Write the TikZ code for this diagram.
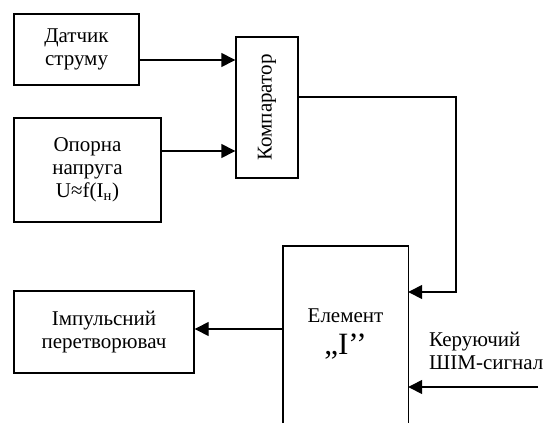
\documentclass[tikz,border=0pt]{standalone}
\usepackage{fontspec}
\setmainfont{Liberation Serif}
\usetikzlibrary{arrows.meta}
\tikzset{blok/.style={draw, line width=1.4pt, align=center, inner sep=0pt},
  arr/.style={line width=1.4pt, -{Triangle[length=14pt,width=14pt]}}}

\begin{document}
\begin{tikzpicture}[x=1pt, y=-1pt, font=\fontsize{21}{23}\selectfont]
      \useasboundingbox (0,0) rectangle (543,423);
      \node [blok, minimum width=125pt, minimum height=71pt] (dat) at (76.5, 49.5) {Датчик\\струму};
      \node [blok, minimum width=147pt, minimum height=104pt] (opor) at (87.5, 170) {Опорна\\напруга\\U≈f(I\textsubscript{н})};
      \node [blok, minimum width=62pt, minimum height=141pt] (komp) at (267, 107.5) {\rotatebox{90}{Компаратор}};
      \node [blok, minimum width=180pt, minimum height=82pt] (imp) at (104, 332) {Імпульсний\\перетворювач};
      \node [align=center, minimum width=125pt, minimum height=177pt, inner sep=0pt] (elem) at (345.5, 334.5) {Елемент\\[9pt]{\fontsize{31}{31}\selectfont ,,I’’}};
      \draw [line width=1.4pt] (elem.south west) -- (elem.north west) -- (elem.north east) -- (elem.south east);
      \node [align=left, anchor=west, inner sep=0pt] (keru) at (429, 351) {Керуючий\\ШІМ-сигнал};
      \coordinate (bend) at (456, 292);
      \coordinate (pwm) at (538, 387);
      \draw [arr] (dat.east |- 0,60) -- (komp.west |- 0,60);
      \draw [arr] (opor.east |- 0,151) -- (komp.west |- 0,151);
      \draw [arr] (komp.east |- 0,97) -| (bend) -- (elem.east |- bend);
      \draw [arr] (elem.west |- 0,329) -- (imp.east |- 0,329);
      \draw [arr] (pwm) -- (elem.east |- pwm);
    \end{tikzpicture}
\end{document}
